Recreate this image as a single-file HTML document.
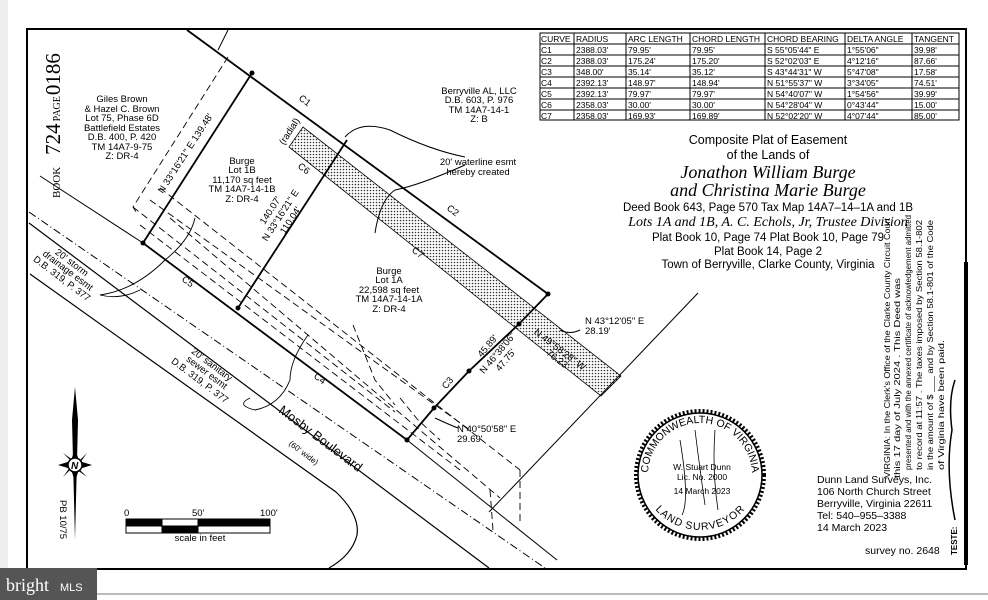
<!DOCTYPE html>
<html><head><meta charset="utf-8"><style>
html,body{margin:0;padding:0;background:#fff}
svg{display:block}
text{font-family:"Liberation Sans",sans-serif;fill:#000}
.s{font-size:9.5px}
.serif{font-family:"Liberation Serif",serif}
</style></head><body>
<svg width="988" height="600" viewBox="0 0 988 600" xmlns="http://www.w3.org/2000/svg">
<defs>
<pattern id="dots" width="3" height="3" patternUnits="userSpaceOnUse"><rect width="3" height="3" fill="#fff"/><circle cx="1.5" cy="1.5" r="0.8" fill="#333"/></pattern>
<path id="sealTop" d="M 648 475 A 52 52 0 0 1 752 475"/>
<path id="sealBot" d="M 650 485 A 52 52 0 0 0 750 485"/>
</defs>
<rect width="988" height="600" fill="#fff"/>
<rect x="0" y="0" width="8" height="600" fill="#eee"/>
<rect x="27" y="29" width="939" height="540" fill="none" stroke="#000" stroke-width="2"/>
<line x1="966" y1="262" x2="966" y2="565" stroke="#000" stroke-width="4"/>
<line x1="0" y1="594" x2="988" y2="594" stroke="#bbb" stroke-width="2"/>

<polygon points="303,127 621,376 601,396 289,147" fill="url(#dots)" stroke="#000" stroke-width="0.8"/>

<g stroke="#000" fill="none">
<line x1="187" y1="30" x2="548" y2="294" stroke-width="1.8"/>
<line x1="228" y1="30" x2="218" y2="50" stroke-width="1"/>
<line x1="143" y1="243" x2="252" y2="73" stroke-width="1.8"/>
<line x1="238" y1="308" x2="347" y2="140" stroke-width="1.8"/>
<line x1="40" y1="176" x2="143" y2="243" stroke-width="1"/>
<line x1="143" y1="243" x2="407" y2="440" stroke-width="1.8"/>
<line x1="407" y1="440" x2="557" y2="560" stroke-width="1"/>
<polyline points="407,440 434,408 469,371 519,324 548,294" stroke-width="1.8"/>
<line x1="698" y1="293" x2="489" y2="512" stroke-width="1"/>
<line x1="29" y1="223" x2="489" y2="568" stroke-width="1.2"/>
<line x1="29" y1="212" x2="545" y2="568" stroke-width="1" stroke-dasharray="8,3,1,3"/>
<path d="M30 274 L336 492 Q360 515 357 535 Q352 555 329 568" stroke-width="1.2"/>
<g stroke-dasharray="7,4" stroke-width="0.9">
<polyline points="228,57 133,207 138,215"/>
<line x1="133" y1="207" x2="395" y2="412"/>
<line x1="140" y1="225" x2="460" y2="470"/>
<line x1="150" y1="200" x2="470" y2="430"/>
<line x1="160" y1="188" x2="520" y2="470"/>
<line x1="170" y1="218" x2="500" y2="498"/>
<polyline points="353,325 375,380 395,405"/>
<polyline points="400,398 418,420 440,440"/>
<line x1="520" y1="470" x2="520" y2="525"/>
<line x1="490" y1="490" x2="493" y2="530"/>
</g>
<path d="M195 218 Q 190 240 165 260 Q 135 290 100 295 Q 120 300 140 290" stroke-width="0.9"/>
<path d="M308 335 Q 290 360 290 380 Q 280 405 255 410 Q 235 405 250 398" stroke-width="0.9"/>
<path d="M345 137 Q 360 120 390 130 Q 430 150 465 157"/>
<path d="M375 233 Q 380 200 395 190 Q 420 185 465 165"/>
<path d="M560 330 Q 570 335 580 330"/>
<path d="M435 418 Q 450 425 458 428"/>
</g>
<g fill="#000"><circle cx="252" cy="73" r="2.5"/><circle cx="143" cy="243" r="2.5"/><circle cx="238" cy="308" r="2.5"/><circle cx="407" cy="440" r="2.5"/><circle cx="434" cy="408" r="2.5"/><circle cx="469" cy="371" r="2.5"/><circle cx="519" cy="324" r="2.5"/><circle cx="548" cy="294" r="2.5"/></g>

<!-- Book page -->
<text transform="translate(60,198) rotate(-90)" class="serif"><tspan font-size="11">BOOK</tspan><tspan font-size="21" dx="12">724</tspan><tspan font-size="10" dx="2">PAGE</tspan><tspan font-size="21" dx="1">0186</tspan></text>

<g class="s" text-anchor="middle">
<text x="122" y="102">Giles Brown</text><text x="122" y="112">&amp; Hazel C. Brown</text><text x="122" y="121">Lot 75, Phase 6D</text><text x="122" y="131">Battlefield Estates</text><text x="122" y="140">D.B. 400, P. 420</text><text x="122" y="150">TM 14A7-9-75</text><text x="122" y="159">Z: DR-4</text>
<text x="479" y="94">Berryville AL, LLC</text><text x="479" y="103">D.B. 603, P. 976</text><text x="479" y="113">TM 14A7-14-1</text><text x="479" y="122">Z: B</text>
<text x="242" y="164">Burge</text><text x="242" y="173">Lot 1B</text><text x="242" y="183">11,170 sq feet</text><text x="242" y="192">TM 14A7-14-1B</text><text x="242" y="202">Z: DR-4</text>
<text x="389" y="274">Burge</text><text x="389" y="283">Lot 1A</text><text x="389" y="293">22,598 sq feet</text><text x="389" y="302">TM 14A7-14-1A</text><text x="389" y="312">Z: DR-4</text>
<text x="478" y="165">20' waterline esmt</text><text x="478" y="175">hereby created</text>
<text transform="translate(188,155) rotate(-57)">N 33°16'21" E   139.48'</text>
<text transform="translate(273,212) rotate(-57)">140.07'</text>
<text transform="translate(283,217) rotate(-57)">N 33°16'21" E</text>
<text transform="translate(293,222) rotate(-57)">110.04'</text>
<text transform="translate(292,133) rotate(-57)">(radial)</text>
<text transform="translate(303,103) rotate(37)">C1</text>
<text transform="translate(451,213) rotate(37)">C2</text>
<text transform="translate(416,255) rotate(37)">C7</text>
<text transform="translate(302,171) rotate(37)">C6</text>
<text transform="translate(186,284) rotate(37)">C5</text>
<text transform="translate(318,381) rotate(37)">C4</text>
<text transform="translate(450,385) rotate(-50)">C3</text>
<text transform="translate(490,348) rotate(-50)">45.89'</text>
<text transform="translate(500,355) rotate(-50)">N 46°38'06"</text>
<text transform="translate(508,362) rotate(-50)">47.75'</text>
<text transform="translate(558,352) rotate(37)">N 49°58'28" W</text>
<text transform="translate(556,362) rotate(37)">76.23'</text>
<text transform="translate(70,265) rotate(37)">20' storm</text>
<text transform="translate(66,273) rotate(37)">drainage esmt</text>
<text transform="translate(60,281) rotate(37)">D.B. 319, P. 377</text>
<text transform="translate(210,367) rotate(37)">20' sanitary</text>
<text transform="translate(205,375) rotate(37)">sewer esmt</text>
<text transform="translate(198,383) rotate(37)">D.B. 319, P. 377</text>
<text transform="translate(200,541)">scale in feet</text>
</g>
<g class="s">
<text x="585" y="324">N 43°12'05" E</text><text x="585" y="334">28.19'</text>
<text x="457" y="432">N 40°50'58" E</text><text x="457" y="442">29.69'</text>
</g>
<text transform="translate(318,442) rotate(37)" font-size="13" text-anchor="middle">Mosby Boulevard</text>
<text transform="translate(302,455) rotate(37)" font-size="8" text-anchor="middle">(60' wide)</text>

<g>
<polygon points="75,387 78,420 75,540 72,420" fill="#000"/>
<polygon points="75,448 79,461 92,465 79,469 75,482 71,469 58,465 71,461" fill="#000"/>
<polygon points="63,453 77,463 87,453 77,467 87,477 73,467 63,477 73,463" fill="#000"/>
<circle cx="75" cy="465" r="7" fill="#fff" stroke="#000" stroke-width="1.5"/>
<text x="71" y="469" font-size="10" font-style="italic" font-weight="bold">N</text>
<text transform="translate(60,500) rotate(90)" class="s">PB 10/75</text>
</g>
<g stroke="#000" stroke-width="1">
<rect x="126" y="519" width="144" height="14" fill="#fff"/>
<rect x="126" y="519" width="36" height="7" fill="#000"/>
<rect x="162" y="526" width="36" height="7" fill="#000"/>
<rect x="198" y="519" width="72" height="7" fill="#000"/>
</g>
<g class="s"><text x="124" y="516">0</text><text x="192" y="516">50'</text><text x="260" y="516">100'</text></g>

<g stroke="#000" stroke-width="1" fill="none">
<rect x="540" y="33" width="419" height="87"/>
<line x1="574" y1="33" x2="574" y2="120"/><line x1="626" y1="33" x2="626" y2="120"/><line x1="690" y1="33" x2="690" y2="120"/><line x1="765" y1="33" x2="765" y2="120"/><line x1="845" y1="33" x2="845" y2="120"/><line x1="912" y1="33" x2="912" y2="120"/>
<line x1="540" y1="44" x2="959" y2="44"/><line x1="540" y1="55" x2="959" y2="55"/><line x1="540" y1="66" x2="959" y2="66"/><line x1="540" y1="77" x2="959" y2="77"/><line x1="540" y1="88" x2="959" y2="88"/><line x1="540" y1="99" x2="959" y2="99"/><line x1="540" y1="110" x2="959" y2="110"/>
</g>
<g font-size="8.5">
<text x="541" y="42">CURVE</text><text x="576" y="42">RADIUS</text><text x="628" y="42">ARC LENGTH</text><text x="692" y="42">CHORD LENGTH</text><text x="767" y="42">CHORD BEARING</text><text x="847" y="42">DELTA ANGLE</text><text x="914" y="42">TANGENT</text>
<text x="541" y="53">C1</text><text x="576" y="53">2388.03'</text><text x="628" y="53">79.95'</text><text x="692" y="53">79.95'</text><text x="767" y="53">S 55°05'44" E</text><text x="847" y="53">1°55'06"</text><text x="914" y="53">39.98'</text>
<text x="541" y="64">C2</text><text x="576" y="64">2388.03'</text><text x="628" y="64">175.24'</text><text x="692" y="64">175.20'</text><text x="767" y="64">S 52°02'03" E</text><text x="847" y="64">4°12'16"</text><text x="914" y="64">87.66'</text>
<text x="541" y="75">C3</text><text x="576" y="75">348.00'</text><text x="628" y="75">35.14'</text><text x="692" y="75">35.12'</text><text x="767" y="75">S 43°44'31" W</text><text x="847" y="75">5°47'08"</text><text x="914" y="75">17.58'</text>
<text x="541" y="86">C4</text><text x="576" y="86">2392.13'</text><text x="628" y="86">148.97'</text><text x="692" y="86">148.94'</text><text x="767" y="86">N 51°55'37" W</text><text x="847" y="86">3°34'05"</text><text x="914" y="86">74.51'</text>
<text x="541" y="97">C5</text><text x="576" y="97">2392.13'</text><text x="628" y="97">79.97'</text><text x="692" y="97">79.97'</text><text x="767" y="97">N 54°40'07" W</text><text x="847" y="97">1°54'56"</text><text x="914" y="97">39.99'</text>
<text x="541" y="108">C6</text><text x="576" y="108">2358.03'</text><text x="628" y="108">30.00'</text><text x="692" y="108">30.00'</text><text x="767" y="108">N 54°28'04" W</text><text x="847" y="108">0°43'44"</text><text x="914" y="108">15.00'</text>
<text x="541" y="119">C7</text><text x="576" y="119">2358.03'</text><text x="628" y="119">169.93'</text><text x="692" y="119">169.89'</text><text x="767" y="119">N 52°02'20" W</text><text x="847" y="119">4°07'44"</text><text x="914" y="119">85.00'</text>
</g>

<g text-anchor="middle">
<text x="768" y="144" font-size="12.5">Composite Plat of Easement</text>
<text x="768" y="159" font-size="12.5">of the Lands of</text>
<text x="768" y="178" font-size="18" font-style="italic" class="serif">Jonathon William Burge</text>
<text x="768" y="196" font-size="18" font-style="italic" class="serif">and Christina Marie Burge</text>
<text x="768" y="211" font-size="11.5">Deed Book 643, Page 570     Tax Map 14A7–14–1A and 1B</text>
<text x="768" y="226" font-size="14" font-style="italic" class="serif">Lots 1A and 1B, A. C. Echols, Jr, Trustee Division</text>
<text x="768" y="241" font-size="11.5">Plat Book 10, Page 74     Plat Book 10, Page 79</text>
<text x="768" y="255" font-size="11.5">Plat Book 14, Page 2</text>
<text x="768" y="268" font-size="11.5">Town of Berryville, Clarke County, Virginia</text>
</g>

<g class="serif" font-size="8">
<text transform="translate(890,478) rotate(-90)" textLength="260" lengthAdjust="spacingAndGlyphs">VIRGINIA: In the Clerk's Office of the Clarke County Circuit Court</text>
<text transform="translate(900,478) rotate(-90)" textLength="200" lengthAdjust="spacingAndGlyphs">this  17  day of  July  2024 . This Deed was</text>
<text transform="translate(911,470) rotate(-90)" textLength="255" lengthAdjust="spacingAndGlyphs">presented and with the annexed certificate of acknowledgement admitted</text>
<text transform="translate(922,470) rotate(-90)" textLength="250" lengthAdjust="spacingAndGlyphs">to record at  11:57 . The taxes imposed by Section 58.1-802</text>
<text transform="translate(933,470) rotate(-90)" textLength="250" lengthAdjust="spacingAndGlyphs">in the amount of $ ___ and by Section 58.1-801 of the Code</text>
<text transform="translate(944,470) rotate(-90)" textLength="130" lengthAdjust="spacingAndGlyphs">of Virginia have been paid.</text>
<text transform="translate(957,555) rotate(-90)" font-weight="bold" font-family="Liberation Sans">TESTE:</text>
</g>
<path d="M955 520 Q 945 470 952 430 Q 948 400 955 380" stroke="#000" fill="none" stroke-width="1.5"/>

<g>
<circle cx="700" cy="475" r="64" fill="none" stroke="#000" stroke-width="4" stroke-dasharray="2,2"/>
<circle cx="700" cy="475" r="62" fill="none" stroke="#000" stroke-width="1.5"/>
<text font-size="10.5"><textPath href="#sealTop" startOffset="50%" text-anchor="middle">COMMONWEALTH OF VIRGINIA</textPath></text>
<text font-size="10.5"><textPath href="#sealBot" startOffset="50%" text-anchor="middle" dominant-baseline="hanging">LAND SURVEYOR</textPath></text>
<g font-size="8.5" text-anchor="middle"><text x="702" y="470">W. Stuart Dunn</text><text x="702" y="480">Lic. No. 2000</text><text x="702" y="494">14 March 2023</text></g>
<path d="M680 440 Q 690 500 682 515 M695 430 Q 700 470 705 505 M715 430 Q 712 470 718 510" stroke="#000" fill="none" stroke-width="0.8"/>
</g>

<g font-size="10.5">
<text x="817" y="483">Dunn Land Surveys, Inc.</text>
<text x="817" y="495">106 North Church Street</text>
<text x="817" y="507">Berryville, Virginia 22611</text>
<text x="817" y="519">Tel: 540–955–3388</text>
<text x="817" y="531">14 March 2023</text>
<text x="865" y="554">survey no. 2648</text>
</g>

<rect x="0" y="568" width="97" height="32" fill="#555"/>
<text x="6" y="591" font-size="18" class="serif" style="fill:#fff">bright</text>
<text x="60" y="591" font-size="11" style="fill:#fff">MLS</text>
</svg>
</body></html>
